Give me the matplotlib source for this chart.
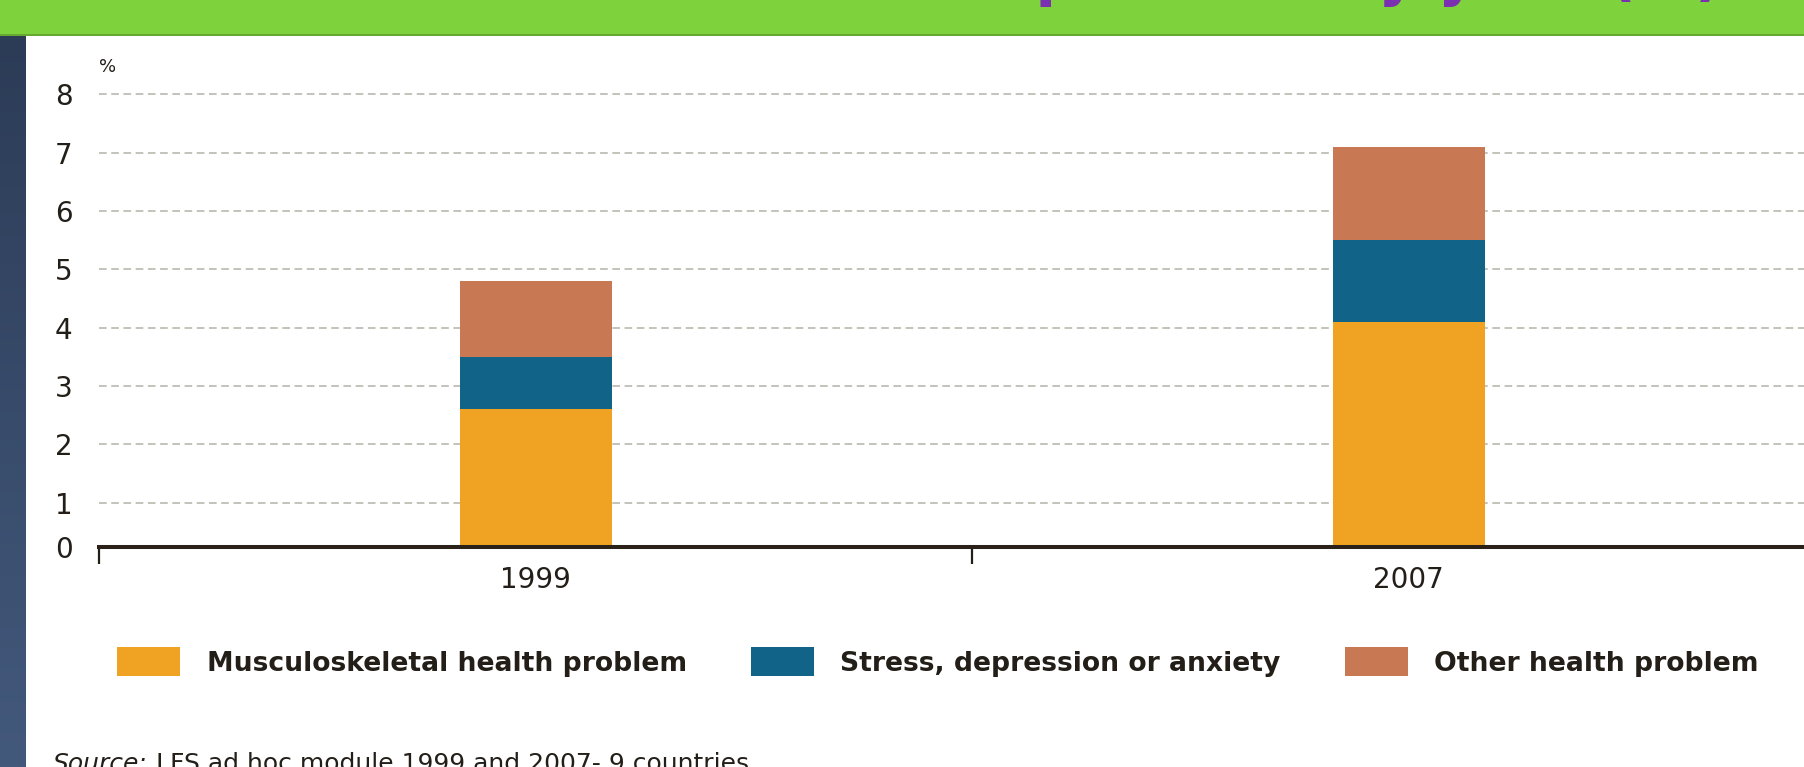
import matplotlib
matplotlib.use('Agg')
import matplotlib.pyplot as plt
import numpy as np
from matplotlib.patches import Rectangle
from matplotlib.colors import LinearSegmentedColormap

# ---- data ----
years = ['1999', '2007']
musculo = [2.6, 4.1]
stress = [0.9, 1.4]
other = [1.3, 1.6]
series_names = ['Musculoskeletal health problem',
                'Stress, depression or anxiety',
                'Other health problem']
yticks = [0, 1, 2, 3, 4, 5, 6, 7, 8]
source_label = 'Source:'
source_text = ' LFS ad hoc module 1999 and 2007- 9 countries'
title_text = 'Workers with a work-related health problem by year (%)'

# ---- style ----
C_MUS = '#f0a322'
C_STR = '#126388'
C_OTH = '#c87953'
C_TXT = '#231f18'
C_GRID = '#b3b1a8'
W, H = 1804, 767

plt.rcParams['font.family'] = ['DejaVu Sans']

fig = plt.figure(figsize=(W / 100, H / 100), dpi=100)
fig.patch.set_facecolor('white')


def fx(px):
    return px / W


def fy(py):
    return 1 - py / H


# banner
fig.patches.append(Rectangle((0, fy(34)), 1, 34 / H, transform=fig.transFigure,
                             facecolor='#7ed23c', edgecolor='none', zorder=0))
fig.patches.append(Rectangle((0, fy(36)), 1, 2.5 / H, transform=fig.transFigure,
                             facecolor='#66a832', edgecolor='none', zorder=0))
fig.text(fx(1722), fy(-6), title_text, ha='right', va='baseline', fontsize=43,
         fontweight='bold', color='#7a30b0')

# left strip gradient
ax_bg = fig.add_axes([0, 0, fx(26), (H - 36) / H])
grad = np.linspace(0, 1, 256).reshape(-1, 1)
cm = LinearSegmentedColormap.from_list('strip', ['#2c3c57', '#43597c'])
ax_bg.imshow(grad, aspect='auto', cmap=cm, extent=[0, 1, 0, 1], origin='upper')
ax_bg.axis('off')

# main axes
ppu = 873.0
ax = fig.add_axes([fx(99), fy(547), (W - 99) / W, (547 - 71) / H])
ax.set_facecolor('none')
x = np.arange(len(years))
mus = np.array(musculo)
stv = np.array(stress)
oth = np.array(other)
bw = 152 / ppu
b1 = ax.bar(x, mus, bw, color=C_MUS, zorder=3, label=series_names[0])
b2 = ax.bar(x, stv, bw, bottom=mus, color=C_STR, zorder=3, label=series_names[1])
b3 = ax.bar(x, oth, bw, bottom=mus + stv, color=C_OTH, zorder=3, label=series_names[2])

ybot = 0.237

for v in yticks[1:]:
    ax.axhline(v, color=C_GRID, lw=1.1, ls=(0, (5, 3)), zorder=1)

ax.set_yticks([ybot] + yticks[1:])
ax.set_yticklabels([str(v) for v in yticks])
ax.tick_params(axis='y', length=0, pad=19, labelsize=20, labelcolor=C_TXT)

ax.set_xticks([-0.5, 0.5, 1.5])
ax.set_xticklabels(['', '', ''])
ax.set_xticks(x, minor=True)
ax.set_xticklabels(years, minor=True)
ax.tick_params(axis='x', which='major', length=12, width=1.6, color=C_TXT,
               direction='out')
ax.tick_params(axis='x', which='minor', length=0, pad=14, labelsize=20,
               labelcolor=C_TXT)

ax.set_xlim(-0.5, -0.5 + (W - 99) / ppu)
ax.set_ylim(ybot, 8.40)

for s in ['top', 'right', 'left']:
    ax.spines[s].set_visible(False)
ax.spines['bottom'].set_linewidth(2.9)
ax.spines['bottom'].set_color('#2a2218')
ax.spines['bottom'].set_zorder(5)

fig.text(fx(99), fy(67), '%', ha='left', va='center', fontsize=13, color=C_TXT)

# legend
leg = fig.legend(handles=[b1, b2, b3], labels=series_names, loc='center',
                 bbox_to_anchor=(fx(938), fy(662)), ncol=3, frameon=False,
                 prop={'family': 'DejaVu Sans', 'weight': 'bold', 'size': 19.2},
                 labelcolor=C_TXT, handlelength=2.36, handleheight=1.26,
                 handletextpad=0.99, columnspacing=2.4)

# source
t1 = fig.text(fx(53), fy(752), source_label, ha='left', va='top', fontsize=18,
              style='italic', color=C_TXT)
fig.canvas.draw()
bb = t1.get_window_extent(renderer=fig.canvas.get_renderer())
fig.text(bb.x1 / W, fy(752), source_text, ha='left', va='top', fontsize=18,
         color=C_TXT)

fig.savefig('out.png', dpi=100)
